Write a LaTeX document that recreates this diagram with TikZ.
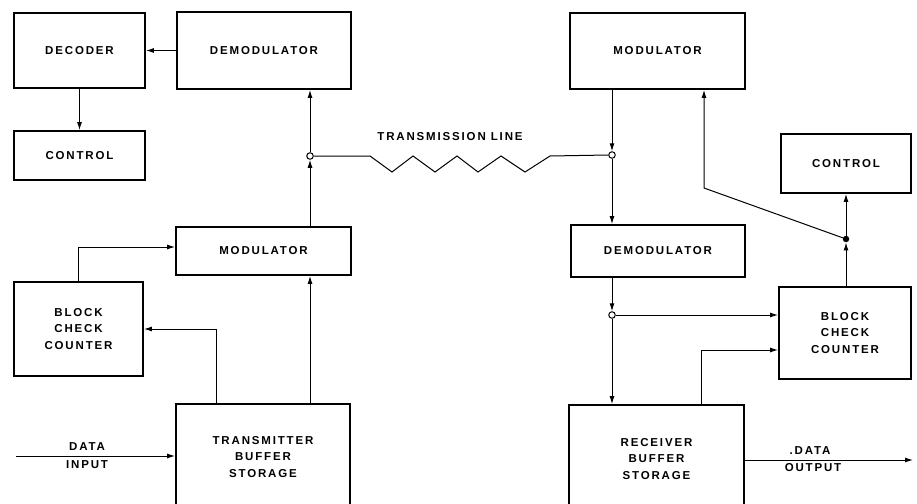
\documentclass[tikz,border=0pt]{standalone}
\usepackage{fontspec}
\setmainfont{Liberation Sans}[LetterSpace=16]
\usetikzlibrary{arrows.meta,calc}
\begin{document}
\begin{tikzpicture}[x=1pt,y=-1pt,
  box/.style={draw,line width=1.8pt,rectangle,inner sep=0pt,align=center,
    font=\fontsize{11.5}{16.5}\selectfont\bfseries},
  lbl/.style={inner sep=0pt,align=center,font=\fontsize{11.5}{16.5}\selectfont\bfseries},
  conn/.style={line width=1pt},
  arr/.style={conn,-{Latex[length=8pt,width=5pt]}},
  opencirc/.style={circle,draw,fill=white,line width=1pt,minimum size=6.5pt,inner sep=0pt},
  dotc/.style={circle,fill=black,minimum size=6.5pt,inner sep=0pt}]
\useasboundingbox (0,0) rectangle (917,503);
\clip (0,0) rectangle (917,503);
% boxes left
\node[box,minimum width=131pt,minimum height=75pt] (dec) at (79.5,50.5) {DECODER};
\node[box,minimum width=174pt,minimum height=77pt] (demL) at (264,50.5) {DEMODULATOR};
\node[box,minimum width=131pt,minimum height=49pt] (ctlL) at (79.5,155.5) {CONTROL};
\node[box,minimum width=175pt,minimum height=48pt] (modL) at (263.5,251) {MODULATOR};
\node[box,minimum width=129pt,minimum height=94pt] (bccL) at (78.5,329) {BLOCK\\CHECK\\COUNTER};
\node[box,minimum width=174pt,minimum height=106pt] (tbs) at (263,457) {TRANSMITTER\\BUFFER\\STORAGE};
% boxes right
\node[box,minimum width=175pt,minimum height=76pt] (modR) at (657.5,51) {MODULATOR};
\node[box,minimum width=174pt,minimum height=52pt] (demR) at (658,251) {DEMODULATOR};
\node[box,minimum width=130pt,minimum height=59pt] (ctlR) at (846,163.5) {CONTROL};
\node[box,minimum width=132pt,minimum height=92pt] (bccR) at (845,333) {BLOCK\\CHECK\\COUNTER};
\node[box,minimum width=175pt,minimum height=108pt] (rbs) at (656.5,459) {RECEIVER\\BUFFER\\STORAGE};
% junctions
\node[opencirc] (cL) at (310,156) {};
\node[opencirc] (cR) at (612,155) {};
\node[opencirc] (cB) at (612,315) {};
\node[dotc] (dR) at (846,239) {};
\coordinate (din) at (16,456);
\coordinate (dout) at (913,460);
\coordinate (bend) at (704,188);
% left connectors
\draw[arr] (demL.west) -- (dec.east);
\draw[arr] (dec.south) -- (ctlL.north);
\draw[arr] (modL.north -| cL) -- (cL.south);
\draw[arr] (cL.north) -- (demL.south -| cL);
\draw[arr] (bccL.north) |- ($(modL.west)+(0,-4)$);
\draw[arr] ($(tbs.north west)+(41,0)$) |- (bccL.east);
\draw[arr] (tbs.north -| cL) -- (modL.south -| cL);
\draw[arr] (din) -- (din -| tbs.west);
\node[lbl] (dinA) at (87,447) {DATA};
\node[lbl] (dinB) at (87,465) {INPUT};
% transmission line
\draw[conn] (cL.east) -- (370,156) -- (392,172) -- (413,156) -- (435,172) -- (457,156)
  -- (478,172) -- (501,156) -- (525,172) -- (550,156) -- (cR.west);
\node[lbl] (tl) at (450,137) {TRANSMISSION LINE};
% right connectors
\draw[arr] (modR.south -| cR) -- (cR.north);
\draw[arr] (cR.south) -- (demR.north -| cR);
\draw[arr] (demR.south -| cB) -- (cB.north);
\draw[arr] (cB.east) -- (bccR.west |- cB);
\draw[arr] (cB.south) -- (rbs.north -| cB);
\draw[arr] ($(rbs.north west)+(133,0)$) |- ($(bccR.west)+(0,17)$);
\draw[arr] (bccR.north -| dR) -- (dR.south);
\draw[arr] (dR.north) -- (ctlR.south -| dR);
\draw[arr] (dR) -- (bend) -- (bend |- modR.south);
\draw[arr] (rbs.east |- dout) -- (dout);
\node[lbl] (doA) at (810,451) {.DATA};
\node[lbl] (doB) at (813,468) {OUTPUT};
\end{tikzpicture}
\end{document}
